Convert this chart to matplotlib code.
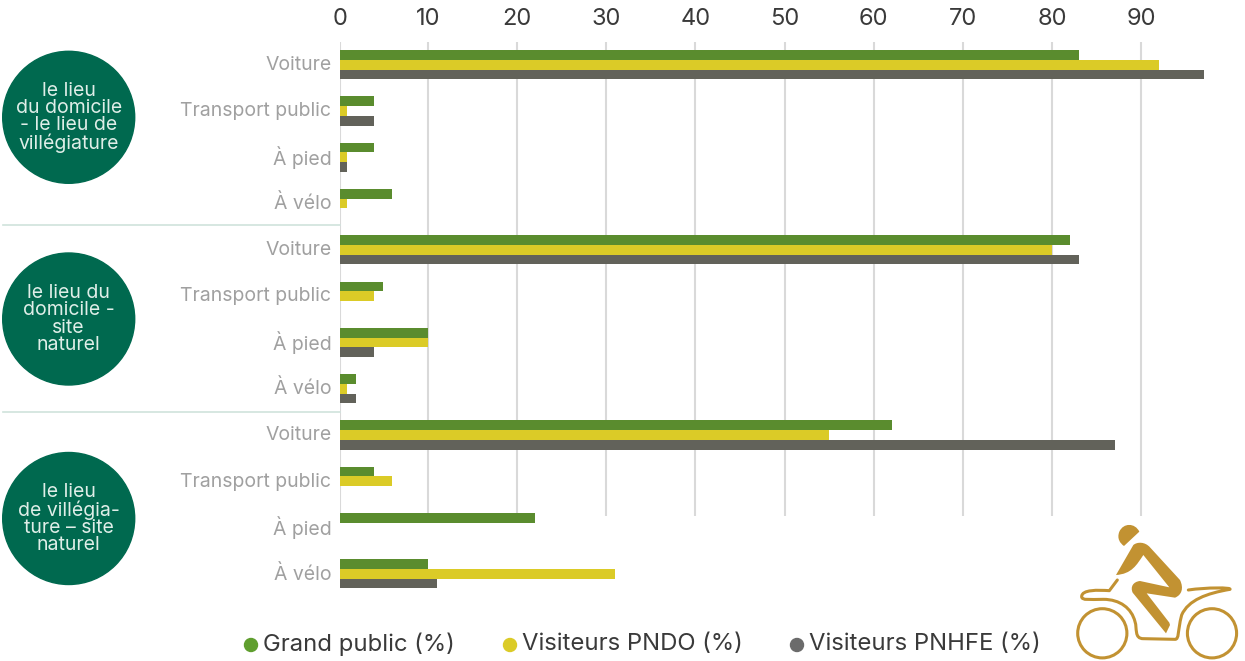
import numpy as np
import matplotlib
matplotlib.use('Agg')
import matplotlib.pyplot as plt
from matplotlib.patches import Circle, PathPatch
from matplotlib.path import Path

categories = ['Voiture', 'Transport public', 'À pied', 'À vélo'] * 3
grand_public = [83, 4, 4, 6, 82, 5, 10, 2, 62, 4, 22, 10]
visiteurs_pndo = [92, 1, 1, 1, 80, 4, 10, 1, 55, 6, 0, 31]
visiteurs_pnhfe = [97, 4, 1, 0, 83, 0, 4, 2, 87, 0, 0, 11]
series_names = ['Grand public (%)', 'Visiteurs PNDO (%)', 'Visiteurs PNHFE (%)']
x_ticks = [0, 10, 20, 30, 40, 50, 60, 70, 80, 90]
circle_labels = ['le lieu\ndu domicile\n- le lieu de\nvillégiature',
                 'le lieu du\ndomicile -\nsite\nnaturel',
                 'le lieu\nde villégia-\nture – site\nnaturel']

GREEN = '#5a8c2e'
YELLOW = '#dbcb27'
GREY = '#62625a'
DARK = '#00694f'
GOLD = '#c29232'
W, H = 1245, 661

plt.rcParams['font.family'] = ['Inter', 'DejaVu Sans']
fig = plt.figure(figsize=(W / 100, H / 100), dpi=100)

# the value axis has its zero at x=338.5 px (8.92 px per unit), the bars are cut at the axis line
scale = 8.92
left, right, top, bottom = 340.3, 1212, 41.5, 597
x0 = (left - 338.5) / scale
ax = fig.add_axes([left / W, 1 - bottom / H, (right - left) / W, (bottom - top) / H])
ax.set_xlim(x0, x0 + (right - left) / scale)
ax.set_ylim(11.5, -0.5)

y = np.arange(len(categories))
h = 0.21
tick_pos = [max(t, x0 + 0.02) for t in x_ticks]
ax.vlines(tick_pos, -0.5, 9.75, color='#d9d9d9', lw=1.5, zorder=1)
ax.barh(y - h, grand_public, h, color=GREEN, zorder=2)
ax.barh(y, visiteurs_pndo, h, color=YELLOW, zorder=2)
ax.barh(y + h, visiteurs_pnhfe, h, color=GREY, zorder=2)

for s in ax.spines.values():
    s.set_visible(False)
ax.xaxis.tick_top()
ax.set_xticks(tick_pos, [str(t) for t in x_ticks])
ax.set_yticks(y - 0.035, categories)
ax.tick_params(axis='x', length=0, pad=8, labelsize=17, labelcolor='#3a3a3a')
ax.tick_params(axis='y', length=0, pad=6.5, labelsize=14, labelcolor='#a0a0a0')

# overlay in pixel coordinates for circles, separators, legend, icon
ov = fig.add_axes([0, 0, 1, 1])
ov.set_xlim(0, W)
ov.set_ylim(H, 0)
ov.axis('off')
ov.patch.set_alpha(0)

for yy in [225, 412]:
    ov.plot([3, 340], [yy, yy], color='#cfe3dc', lw=1.2)

for cy, txt in zip([117.3, 319, 518.5], circle_labels):
    ov.add_patch(Circle((68.7, cy), 66, color=DARK))
    ov.text(68.7, cy, txt, color='#dfeee8', fontsize=14, ha='center', va='center',
            linespacing=0.94)

for cx, tx, col, name in zip([251, 510, 797], [263, 522, 809], ['#5f9e2e', YELLOW, '#6b6b6b'], series_names):
    ov.add_patch(Circle((cx, 645), 6.5, color=col))
    ov.text(tx, 644, name, fontsize=17.2, color='#3a3a3a', ha='left', va='center')

def icon(points):
    return [(1040 + px / 3, 500 + py / 3) for px, py in points]

M, L, C, Z = Path.MOVETO, Path.LINETO, Path.CURVE4, Path.CLOSEPOLY

ov.add_patch(Circle((1102.3, 633.3), 24.6, fill=False, ec=GOLD, lw=2.2))
ov.add_patch(Circle((1212, 633.3), 24.6, fill=False, ec=GOLD, lw=2.2))

helmet = [(298, 95), (285, 68), (250, 68), (238, 95), (230, 115), (240, 130), (252, 138), (298, 95)]
ov.add_patch(PathPatch(Path(icon(helmet), [M, C, C, C, C, C, C, Z]), fc=GOLD, ec='none'))

body = [(280, 135), (292, 125), (315, 125), (330, 142), (420, 240), (432, 265), (425, 285), (405, 293),
        (320, 280), (388, 368), (390, 375), (378, 400), (278, 278), (270, 260), (280, 245), (300, 243),
        (388, 262), (310, 165), (290, 195), (275, 222), (228, 225), (280, 135), (280, 135)]
body_codes = [M, C, C, C, L, C, C, C, L, L, L, L, L, C, C, C, L, L, C, C, C, L, Z]
ov.add_patch(PathPatch(Path(icon(body), body_codes), fc=GOLD, ec='none'))

frame = [(232, 240), (208, 272), (175, 270), (125, 268), (125, 290), (125, 302), (150, 298), (190, 298),
         (240, 298), (275, 325), (285, 365), (292, 385), (282, 416), (310, 416), (405, 418),
         (418, 418), (412, 395), (425, 345), (445, 300), (500, 280), (570, 268),
         (575, 262), (500, 262), (445, 270)]
frame_codes = [M, L, C, C, C, C, C, C, C, C, C, C, C, C, L, C, C, C, C, C, C, C, C, C]
ov.add_patch(PathPatch(Path(icon(frame), frame_codes), fc='none', ec=GOLD, lw=2.2,
                       capstyle='round', joinstyle='round'))

fig.savefig('out.png', dpi=100)
